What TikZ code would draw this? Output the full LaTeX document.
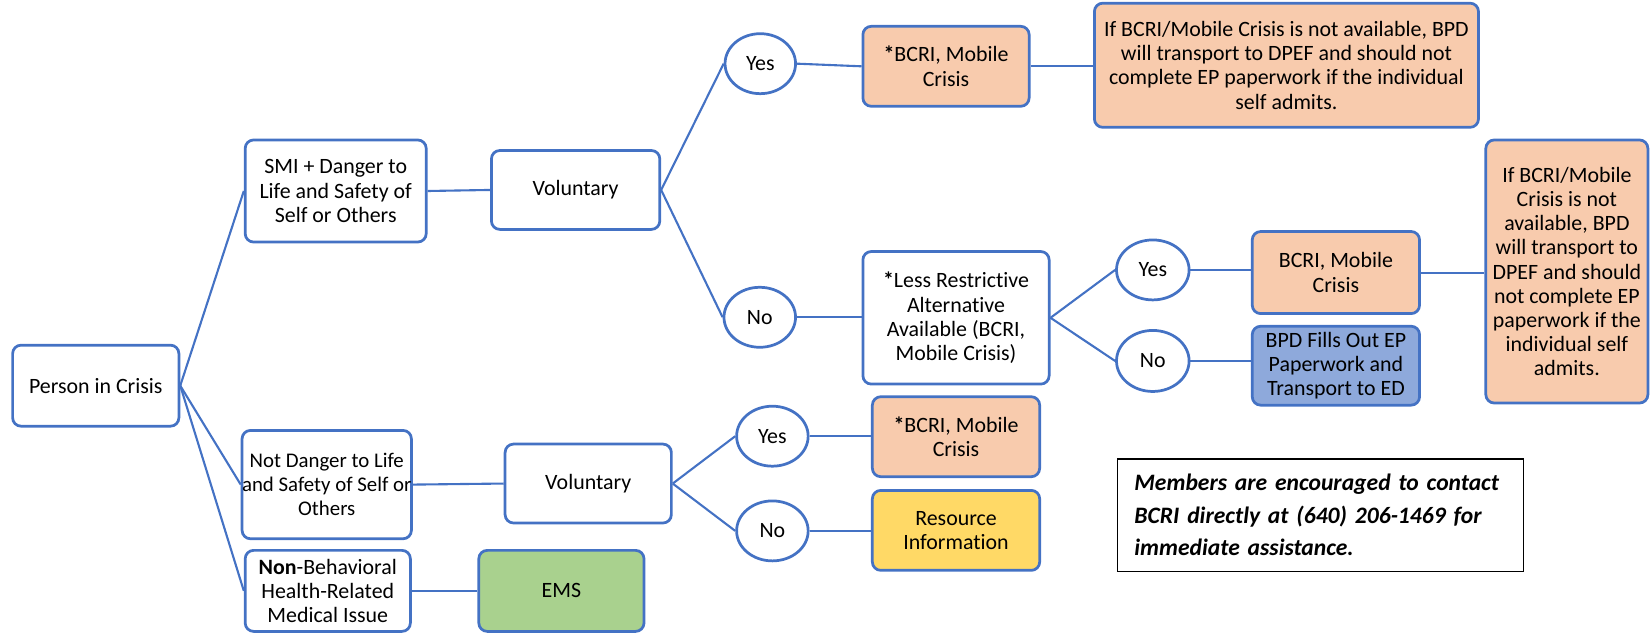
\documentclass[tikz,border=0pt]{standalone}
\usepackage{fontspec}
\setmainfont{Carlito}[Ligatures=CommonOff]
\usetikzlibrary{shapes.geometric}
\definecolor{lineblue}{HTML}{4472C4}
\definecolor{peach}{HTML}{F8CBAD}
\definecolor{bpdblue}{HTML}{8EA9DB}
\definecolor{resyellow}{HTML}{FFD966}
\definecolor{emsgreen}{HTML}{A9D18E}
\begin{document}
\begin{tikzpicture}[x=0.5pt,y=0.5pt,
  txt/.style={font=\fontsize{10.4}{11.5}\selectfont, text=black},
  box/.style={txt, draw=lineblue, line width=1.3pt, rounded corners=4pt, fill=white, align=center, inner sep=1pt},
  sz/.style 2 args={minimum width=#1*0.5pt, minimum height=#2*0.5pt},
  circ/.style={txt, draw=lineblue, line width=1.3pt, ellipse, inner sep=0pt, fill=white},
  conn/.style={draw=lineblue, line width=1pt}]
\useasboundingbox (0,0) rectangle (1568,-602);

\node[box, sz={158}{77}] (person) at (91,-366.5) {Person in Crisis};
\node[box, sz={172}{97}] (smi) at (319,-181.5) {SMI + Danger to\\Life and Safety of\\Self or Others};
\node[box, sz={160}{75}] (vol1) at (547,-180.5) {Voluntary};
\node[circ, sz={67}{57}] (yes1) at (722.5,-60.5) {Yes};
\node[box, fill=peach, sz={158}{76}] (bcri1) at (899,-63) {\textbf{*}BCRI, Mobile\\Crisis};
\node[box, fill=peach, sz={365}{118}] (note1) at (1222.5,-62) {If BCRI/Mobile Crisis is not available, BPD\\will transport to DPEF and should not\\complete EP paperwork if the individual\\self admits.};
\node[circ, sz={68}{57}] (no1) at (722,-301.5) {No};
\node[box, sz={177}{126}] (less) at (908.5,-302) {\textbf{*}Less Restrictive\\Alternative\\Available (BCRI,\\Mobile Crisis)};
\node[circ, sz={69}{57}] (yes2) at (1095.5,-256.5) {Yes};
\node[box, fill=peach, sz={159}{78}] (bcri2) at (1269.5,-259) {BCRI, Mobile\\Crisis};
\node[circ, sz={69}{58}] (no2) at (1095.5,-343) {No};
\node[box, fill=bpdblue, sz={159}{75}] (bpd) at (1269.5,-347.5) {BPD Fills Out EP\\Paperwork and\\Transport to ED};
\node[box, fill=peach, sz={154}{250}] (note2) at (1489,-258) {If BCRI/Mobile\\Crisis is not\\available, BPD\\will transport to\\DPEF and should\\not complete EP\\paperwork if the\\individual self\\admits.};
\node[box, sz={155}{103}, font=\fontsize{9.9}{11.5}\selectfont, inner sep=0pt] (notd) at (310.5,-460.5) {Not Danger to Life\\and Safety of Self or\\Others};
\node[box, sz={158}{75}] (vol2) at (559,-459.5) {Voluntary};
\node[circ, sz={68}{57}] (yes3) at (734,-414.5) {Yes};
\node[circ, sz={68}{57}] (no3) at (734,-504.5) {No};
\node[box, fill=peach, sz={159}{76}] (bcri3) at (908.5,-415) {\textbf{*}BCRI, Mobile\\Crisis};
\node[box, fill=resyellow, sz={159}{76}] (res) at (908.5,-504) {Resource\\Information};
\node[box, sz={157}{77}] (nonb) at (311.5,-561.5) {\textbf{Non}-Behavioral\\Health-Related\\Medical Issue};
\node[box, fill=emsgreen, sz={157}{77}] (ems) at (533.5,-561.5) {EMS};
\node[draw=black, line width=0.7pt, fill=white, sz={386}{107}, text width=177pt, align=left, inner sep=0pt,
      font=\bfseries\itshape\fontsize{11.2}{15.5}\selectfont] (members) at (1255,-489.5)
  {Members are encouraged to contact\\BCRI directly at (640) 206-1469 for\\immediate assistance.};

\draw[conn] (person.east) -- (smi.west);
\draw[conn] (person.east) -- (notd.west);
\draw[conn] (person.east) -- (nonb.west);
\draw[conn] (smi.east) -- (vol1.west);
\draw[conn] (vol1.east) -- (yes1.west);
\draw[conn] (vol1.east) -- (no1.west);
\draw[conn] (yes1.east) -- (bcri1.west);
\draw[conn] (bcri1.east) -- (note1.west |- bcri1.east);
\draw[conn] (no1.east) -- (less.west |- no1.east);
\draw[conn] (less.east) -- (yes2.west);
\draw[conn] (less.east) -- (no2.west);
\draw[conn] (yes2.east) -- (bcri2.west |- yes2.east);
\draw[conn] (bcri2.east) -- (note2.west |- bcri2.east);
\draw[conn] (no2.east) -- (bpd.west |- no2.east);
\draw[conn] (notd.east) -- (vol2.west);
\draw[conn] (vol2.east) -- (yes3.west);
\draw[conn] (vol2.east) -- (no3.west);
\draw[conn] (yes3.east) -- (bcri3.west |- yes3.east);
\draw[conn] (no3.east) -- (res.west |- no3.east);
\draw[conn] (nonb.east) -- (ems.west);
\end{tikzpicture}
\end{document}
